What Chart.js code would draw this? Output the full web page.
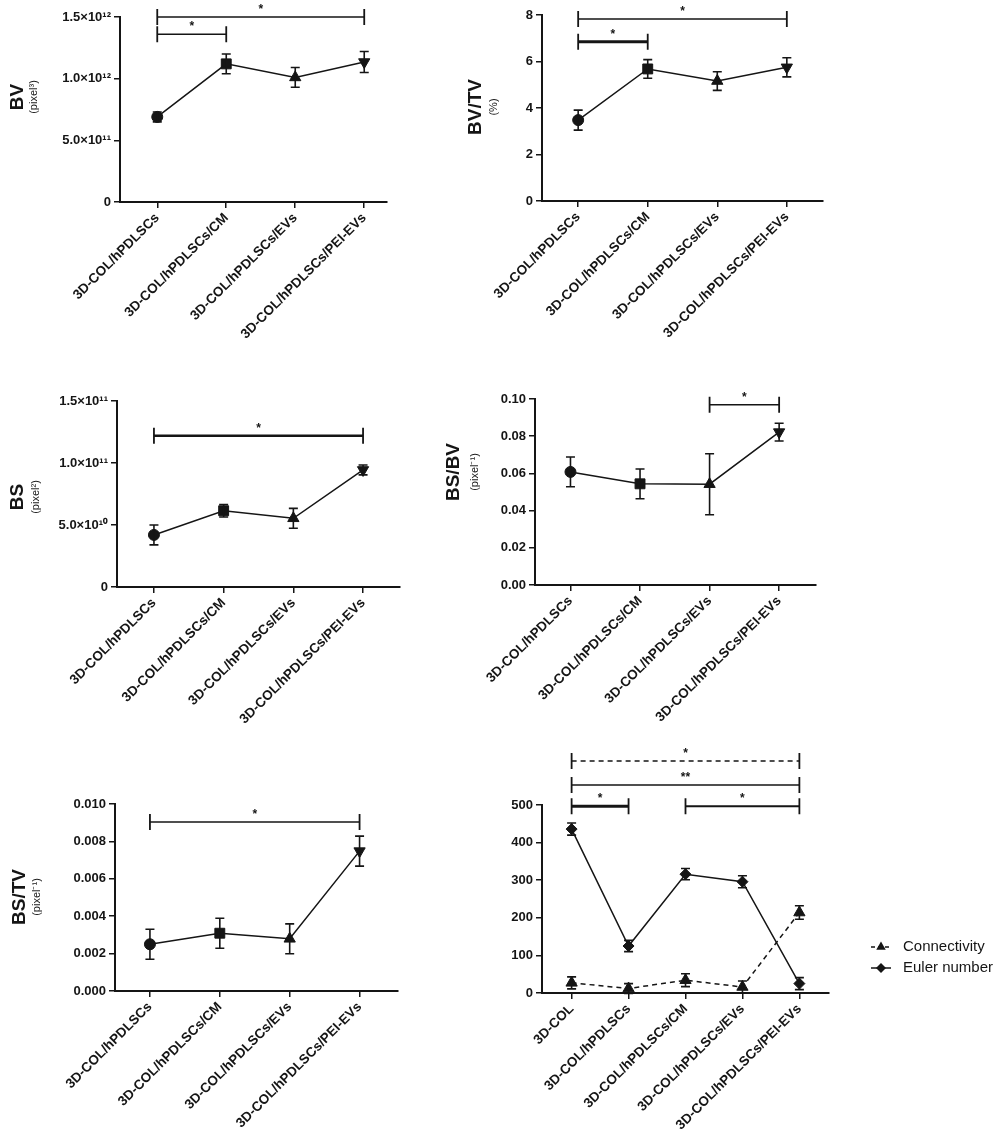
<!DOCTYPE html>
<html>
<head>
<meta charset="utf-8">
<script src="https://cdn.jsdelivr.net/npm/chart.js@4.4.0/dist/chart.umd.min.js"></script>
<style>
body { margin: 0; background: #fff; width: 1000px; height: 1138px; position: relative; overflow: hidden; }
.panel { position: absolute; }
</style>
</head>
<body>
<div class="panel" style="left:0;top:0;width:440px;height:380px"><canvas id="bv"></canvas></div>
<div class="panel" style="left:440px;top:0;width:560px;height:380px"><canvas id="bvtv"></canvas></div>
<div class="panel" style="left:0;top:380px;width:440px;height:380px"><canvas id="bs"></canvas></div>
<div class="panel" style="left:440px;top:380px;width:560px;height:380px"><canvas id="bsbv"></canvas></div>
<div class="panel" style="left:0;top:760px;width:440px;height:378px"><canvas id="bstv"></canvas></div>
<div class="panel" style="left:440px;top:740px;width:560px;height:398px"><canvas id="conn"></canvas></div>
<script>
// groups on the x axis
var groups4 = ['3D-COL/hPDLSCs', '3D-COL/hPDLSCs/CM', '3D-COL/hPDLSCs/EVs', '3D-COL/hPDLSCs/PEI-EVs'];
var groups5 = ['3D-COL'].concat(groups4);

// BV
var bvMean = [0.69e12, 1.12e12, 1.01e12, 1.135e12];
var bvSem = [0.04e12, 0.08e12, 0.08e12, 0.085e12];
var bvTicks = [0, 0.5e12, 1.0e12, 1.5e12];
var bvTickText = ['0', '5.0×10¹¹', '1.0×10¹²', '1.5×10¹²'];
var bvSig = [[0, 3, 1.5e12, '*'], [0, 1, 1.36e12, '*']];

// BV/TV
var bvtvMean = [3.48, 5.68, 5.16, 5.75];
var bvtvSem = [0.43, 0.4, 0.4, 0.41];
var bvtvTicks = [0, 2, 4, 6, 8];
var bvtvTickText = ['0', '2', '4', '6', '8'];
var bvtvSig = [[0, 3, 7.83, '*'], [0, 1, 6.85, '*']];

// BS
var bsMean = [0.42e11, 0.615e11, 0.554e11, 0.944e11];
var bsSem = [0.08e11, 0.05e11, 0.08e11, 0.04e11];
var bsTicks = [0, 0.5e11, 1.0e11, 1.5e11];
var bsTickText = ['0', '5.0×10¹⁰', '1.0×10¹¹', '1.5×10¹¹'];
var bsSig = [[0, 3, 1.22e11, '*']];

// BS/BV
var bsbvMean = [0.0608, 0.0544, 0.0542, 0.0822];
var bsbvSem = [0.008, 0.008, 0.0164, 0.0048];
var bsbvTicks = [0, 0.02, 0.04, 0.06, 0.08, 0.10];
var bsbvTickText = ['0.00', '0.02', '0.04', '0.06', '0.08', '0.10'];
var bsbvSig = [[2, 3, 0.0969, '*']];

// BS/TV
var bstvMean = [0.0025, 0.00309, 0.00279, 0.00748];
var bstvSem = [0.0008, 0.0008, 0.0008, 0.0008];
var bstvTicks = [0, 0.002, 0.004, 0.006, 0.008, 0.010];
var bstvTickText = ['0.000', '0.002', '0.004', '0.006', '0.008', '0.010'];
var bstvSig = [[0, 3, 0.00904, '*']];

// Connectivity / Euler number
var connMean = [27, 12, 34, 16, 214];
var connSem = [16, 13, 17, 16, 18];
var eulerMean = [436, 125, 316, 296, 25];
var eulerSem = [16, 15, 15, 16, 16];
var connTicks = [0, 100, 200, 300, 400, 500];
var connTickText = ['0', '100', '200', '300', '400', '500'];
var connSig = [[0, 1, 497, '*'], [2, 4, 497, '*'], [0, 4, 553, '**'], [0, 4, 617, '*']];

var FONT = "'Liberation Sans', Arial, Helvetica, sans-serif";
var INK = '#151515';
Chart.defaults.font.family = FONT;
Chart.defaults.color = INK;

var marks4 = { style: ['circle', 'rect', 'triangle', 'triangle'], rot: [0, 0, 0, 180], r: [5.5, 7, 6.5, 6.5] };

function series(vals, errs, marks, dash) {
  return {
    data: vals.map(function (v, i) { return { x: i, y: v }; }),
    vals: vals,
    errs: errs,
    borderColor: INK,
    borderWidth: 1.5,
    borderDash: dash || [],
    backgroundColor: INK,
    pointBackgroundColor: INK,
    pointBorderColor: INK,
    pointBorderWidth: 1,
    pointStyle: marks.style,
    pointRotation: marks.rot,
    pointRadius: marks.r,
    tension: 0,
    clip: false
  };
}

function makeChart(id, cfg) {
  var b = cfg.box, a = cfg.area;
  var yW = a.l - b.x, xH = b.y + b.h - a.b;

  var extras = {
    id: 'extras',
    afterDatasetsDraw: function (chart) {
      var ctx = chart.ctx, xs = chart.scales.x, ys = chart.scales.y;
      ctx.save();
      // error bars
      ctx.strokeStyle = INK;
      ctx.lineWidth = 1.6;
      ctx.setLineDash([]);
      chart.data.datasets.forEach(function (ds) {
        ds.vals.forEach(function (v, i) {
          var px = xs.getPixelForValue(i);
          var lo = ys.getPixelForValue(v - ds.errs[i]);
          var hi = ys.getPixelForValue(v + ds.errs[i]);
          ctx.beginPath();
          ctx.moveTo(px, lo); ctx.lineTo(px, hi);
          ctx.moveTo(px - 4.5, lo); ctx.lineTo(px + 4.5, lo);
          ctx.moveTo(px - 4.5, hi); ctx.lineTo(px + 4.5, hi);
          ctx.stroke();
        });
      });
      // significance brackets
      cfg.sig.forEach(function (s, k) {
        var st = cfg.sigStyle[k];
        var x1 = xs.getPixelForValue(s[0]), x2 = xs.getPixelForValue(s[1]);
        var y = ys.getPixelForValue(s[2]);
        ctx.lineWidth = st.w;
        ctx.setLineDash(st.dash || []);
        ctx.beginPath(); ctx.moveTo(x1, y); ctx.lineTo(x2, y); ctx.stroke();
        ctx.setLineDash([]);
        ctx.lineWidth = 1.8;
        ctx.beginPath();
        ctx.moveTo(x1, y - 8); ctx.lineTo(x1, y + 8);
        ctx.moveTo(x2, y - 8); ctx.lineTo(x2, y + 8);
        ctx.stroke();
        ctx.fillStyle = INK;
        ctx.font = 'bold 12px ' + FONT;
        ctx.textAlign = 'center';
        ctx.textBaseline = 'alphabetic';
        ctx.fillText(s[3], (x1 + x2) / 2, y - 4);
      });
      // axis titles
      if (cfg.title.text) {
        ctx.fillStyle = INK;
        ctx.textAlign = 'center';
        ctx.textBaseline = 'middle';
        ctx.save();
        ctx.translate(cfg.title.x - b.x, cfg.title.y - b.y);
        ctx.rotate(-Math.PI / 2);
        ctx.font = 'bold 19px ' + FONT;
        ctx.fillText(cfg.title.text, 0, 0);
        ctx.restore();
        ctx.save();
        ctx.translate(cfg.title.ux - b.x, cfg.title.y - b.y);
        ctx.rotate(-Math.PI / 2);
        ctx.font = '11px ' + FONT;
        ctx.fillText(cfg.title.unit, 0, 0);
        ctx.restore();
      }
      // legend
      if (cfg.legend) {
        ctx.textBaseline = 'middle';
        cfg.legend.forEach(function (it) {
          var lx = it.x - b.x, ly = it.y - b.y;
          ctx.strokeStyle = INK;
          ctx.lineWidth = 1.5;
          ctx.setLineDash(it.dash);
          ctx.beginPath(); ctx.moveTo(lx - 10, ly); ctx.lineTo(lx + 10, ly); ctx.stroke();
          ctx.setLineDash([]);
          ctx.fillStyle = INK;
          Chart.helpers.drawPoint(ctx, { pointStyle: it.style, rotation: 0, radius: it.r, borderWidth: 0 }, lx, ly);
          ctx.font = '15px ' + FONT;
          ctx.textAlign = 'left';
          ctx.fillText(it.label, lx + 22, ly);
        });
      }
      ctx.restore();
    }
  };

  var axisGrid = { drawOnChartArea: false, drawTicks: true, tickLength: 6, color: INK, lineWidth: 1.5 };
  var axisBorder = { color: INK, width: 2 };

  return new Chart(document.getElementById(id), {
    type: 'line',
    data: { datasets: cfg.datasets },
    plugins: [extras],
    options: {
      responsive: true,
      maintainAspectRatio: false,
      animation: false,
      devicePixelRatio: 1,
      layout: { padding: { left: 0, top: a.t - b.y, right: b.x + b.w - a.r, bottom: 0 } },
      plugins: { legend: { display: false }, tooltip: { enabled: false } },
      scales: {
        x: {
          type: 'linear',
          min: cfg.xMin,
          max: cfg.xMax,
          afterBuildTicks: function (s) { s.ticks = cfg.labels.map(function (_, i) { return { value: i }; }); },
          afterFit: function (s) { s.height = xH; },
          ticks: {
            autoSkip: false,
            minRotation: 45,
            maxRotation: 45,
            padding: 2,
            color: INK,
            font: { size: 13.5, weight: 'bold' },
            callback: function (v) { return cfg.labels[v]; }
          },
          grid: axisGrid,
          border: axisBorder
        },
        y: {
          type: 'linear',
          min: 0,
          max: cfg.yTicks[cfg.yTicks.length - 1],
          afterBuildTicks: function (s) { s.ticks = cfg.yTicks.map(function (v) { return { value: v }; }); },
          afterFit: function (s) { s.width = yW; },
          ticks: {
            padding: 3,
            color: INK,
            font: { size: 13, weight: 'bold' },
            callback: function (v, i) { return cfg.yTickText[i]; }
          },
          grid: axisGrid,
          border: axisBorder
        }
      }
    }
  });
}

makeChart('bv', {
  box: { x: 0, y: 0, w: 440, h: 380 }, area: { l: 120, t: 17, r: 387, b: 202 },
  xMin: -0.54, xMax: 3.33, labels: groups4,
  yTicks: bvTicks, yTickText: bvTickText,
  datasets: [series(bvMean, bvSem, marks4)],
  sig: bvSig, sigStyle: [{ w: 1.6 }, { w: 1.6 }],
  title: { text: 'BV', unit: '(pixel³)', x: 18, ux: 34, y: 97 }
});

makeChart('bvtv', {
  box: { x: 440, y: 0, w: 560, h: 380 }, area: { l: 542, t: 15, r: 823, b: 201 },
  xMin: -0.52, xMax: 3.52, labels: groups4,
  yTicks: bvtvTicks, yTickText: bvtvTickText,
  datasets: [series(bvtvMean, bvtvSem, marks4)],
  sig: bvtvSig, sigStyle: [{ w: 1.6 }, { w: 3 }],
  title: { text: 'BV/TV', unit: '(%)', x: 476, ux: 494, y: 107 }
});

makeChart('bs', {
  box: { x: 0, y: 380, w: 440, h: 380 }, area: { l: 117, t: 401, r: 400, b: 587 },
  xMin: -0.53, xMax: 3.53, labels: groups4,
  yTicks: bsTicks, yTickText: bsTickText,
  datasets: [series(bsMean, bsSem, marks4)],
  sig: bsSig, sigStyle: [{ w: 2.4 }],
  title: { text: 'BS', unit: '(pixel²)', x: 18, ux: 36, y: 497 }
});

makeChart('bsbv', {
  box: { x: 440, y: 380, w: 560, h: 380 }, area: { l: 535, t: 399, r: 816, b: 585 },
  xMin: -0.51, xMax: 3.53, labels: groups4,
  yTicks: bsbvTicks, yTickText: bsbvTickText,
  datasets: [series(bsbvMean, bsbvSem, marks4)],
  sig: bsbvSig, sigStyle: [{ w: 1.6 }],
  title: { text: 'BS/BV', unit: '(pixel⁻¹)', x: 454, ux: 475, y: 472 }
});

makeChart('bstv', {
  box: { x: 0, y: 760, w: 440, h: 378 }, area: { l: 115, t: 804, r: 398, b: 991 },
  xMin: -0.5, xMax: 3.55, labels: groups4,
  yTicks: bstvTicks, yTickText: bstvTickText,
  datasets: [series(bstvMean, bstvSem, marks4)],
  sig: bstvSig, sigStyle: [{ w: 1.6 }],
  title: { text: 'BS/TV', unit: '(pixel⁻¹)', x: 20, ux: 37, y: 897 }
});

makeChart('conn', {
  box: { x: 440, y: 740, w: 560, h: 398 }, area: { l: 542, t: 805, r: 829, b: 993 },
  xMin: -0.52, xMax: 4.52, labels: groups5,
  yTicks: connTicks, yTickText: connTickText,
  datasets: [
    series(connMean, connSem, { style: 'triangle', rot: 0, r: 6.5 }, [5, 4]),
    series(eulerMean, eulerSem, { style: 'rectRot', rot: 0, r: 5.5 })
  ],
  sig: connSig, sigStyle: [{ w: 3 }, { w: 2 }, { w: 1.4 }, { w: 1.4, dash: [5, 4] }],
  title: { text: '', unit: '', x: 0, ux: 0, y: 0 },
  legend: [
    { label: 'Connectivity', dash: [4, 3], style: 'triangle', r: 5.5, x: 881, y: 947 },
    { label: 'Euler number', dash: [], style: 'rectRot', r: 5, x: 881, y: 968 }
  ]
});
</script>
</body>
</html>
